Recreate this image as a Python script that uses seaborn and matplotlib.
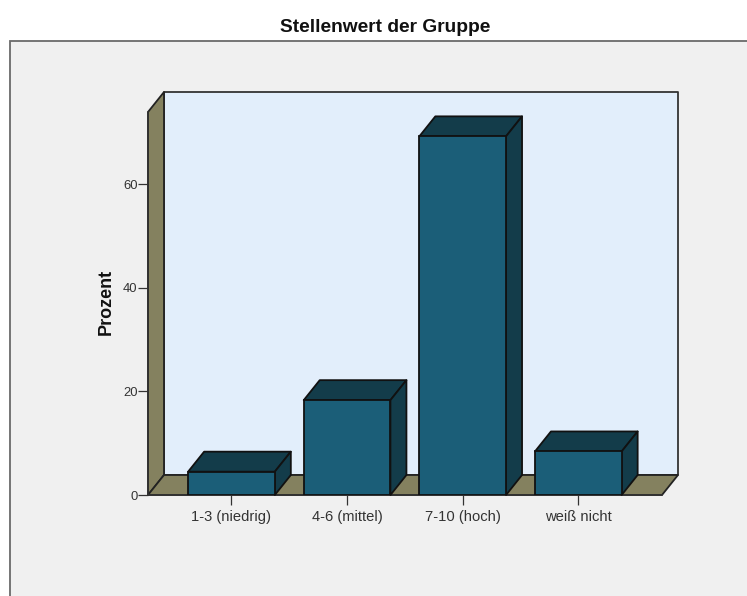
import matplotlib
matplotlib.use("Agg")
import matplotlib.pyplot as plt
from matplotlib.patches import Polygon, Rectangle
import seaborn as sns
import pandas as pd

categories = ["1-3 (niedrig)", "4-6 (mittel)", "7-10 (hoch)", "weiß nicht"]
percent = [4.5, 18.3, 69.2, 8.4]
y_ticks = [0, 20, 40, 60]

TITLE = "Stellenwert der Gruppe"
YLABEL = "Prozent"
W, H = 747, 596
DX, DY = 16, 20
FRONT = "#1B5E78"
DARK = "#133C4A"
WALL = "#84815F"
BACK = "#E2EEFB"
PANEL = "#F0F0F0"
EDGE = "#111111"

sns.set_theme(style="white")
plt.rcParams["font.family"] = ["Liberation Sans", "DejaVu Sans"]

fig = plt.figure(figsize=(W / 100, H / 100), dpi=100, facecolor="white")
fig.add_artist(Rectangle((9.5 / W, -0.1), 1.1, (596 - 40.5) / H + 0.1,
                         transform=fig.transFigure, facecolor=PANEL,
                         edgecolor="#6A6A6A", linewidth=1.3, zorder=-1))
ax = fig.add_axes([148 / W, (H - 495) / H, 514 / W, 383 / H])
ax.patch.set_alpha(0)

df = pd.DataFrame({"cat": categories, "pct": percent})
sns.barplot(data=df, x="cat", y="pct", ax=ax, color=FRONT, saturation=1,
            width=0.75, edgecolor=EDGE, linewidth=1.3, zorder=5)
ax.set_xlim(-0.722, 3.724)
ax.set_ylim(0, 73.9)
fig.canvas.draw()


def face(pts, color, z, ec=EDGE):
    # pts: (x, y, depth) with x, y in data units, depth 0 = front, 1 = back
    out = []
    for x, y, d in pts:
        px, py = ax.transData.transform((x, y))
        out.append((px + d * DX, py + d * DY))
    ax.add_patch(Polygon(out, closed=True, transform=None, facecolor=color,
                         edgecolor=ec, linewidth=1.3, clip_on=False, zorder=z,
                         joinstyle="round"))


x0, x1 = ax.get_xlim()
y0, y1 = ax.get_ylim()
bars = list(ax.patches[:len(categories)])
face([(x0, y0, 1), (x1, y0, 1), (x1, y1, 1), (x0, y1, 1)], BACK, 1, "#333333")
face([(x0, y0, 0), (x0, y1, 0), (x0, y1, 1), (x0, y0, 1)], WALL, 2, "#222222")
face([(x0, y0, 0), (x1, y0, 0), (x1, y0, 1), (x0, y0, 1)], WALL, 2, "#222222")

for bar in bars:
    l, r = bar.get_x(), bar.get_x() + bar.get_width()
    t = bar.get_height()
    face([(l, t, 0), (r, t, 0), (r, t, 1), (l, t, 1)], DARK, 4)
    face([(r, 0, 0), (r, t, 0), (r, t, 1), (r, 0, 1)], DARK, 4)

for s in ["top", "right"]:
    ax.spines[s].set_visible(False)
for s in ["left", "bottom"]:
    ax.spines[s].set_color("#333333")
    ax.spines[s].set_linewidth(1.1)
    ax.spines[s].set_zorder(3)

ax.set_yticks(y_ticks)
ax.tick_params(axis="both", which="major", direction="out", length=7,
               width=0.9, color="#333333", labelcolor="#333333",
               left=True, bottom=True)
ax.tick_params(axis="y", pad=0.5, labelsize=9.4)
ax.tick_params(axis="x", pad=11.5, labelsize=10.6)
for lab in ax.get_xticklabels():
    lab.set_va("baseline")
ax.set_xlabel("")
ax.set_ylabel("")
fig.text(106 / W, (H - 302) / H, YLABEL, rotation=90, ha="center", va="center",
         fontsize=13, fontweight="bold", color="#111111")
fig.text(385 / W, (H - 27) / H, TITLE, ha="center", va="center",
         fontsize=13.8, color="#111111", fontweight="bold")

fig.savefig("out.png", dpi=100, facecolor="white")
